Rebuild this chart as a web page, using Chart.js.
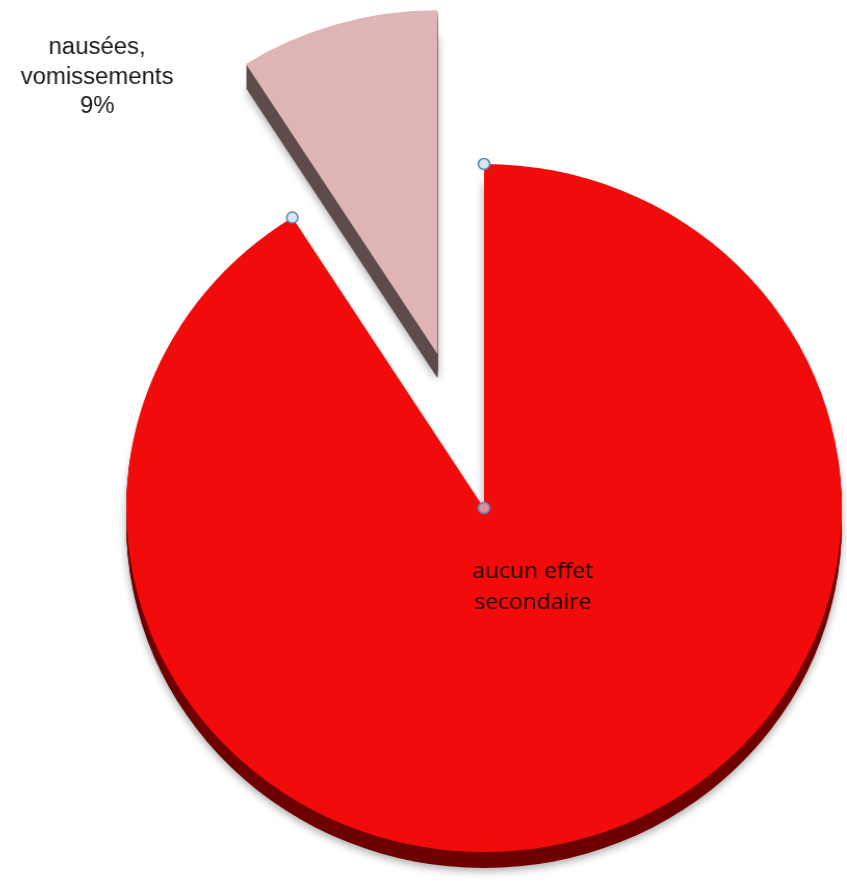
<!DOCTYPE html>
<html lang="fr">
  <head>
    <meta charset="UTF-8" />
    <title>Effets secondaires</title>
    <script src="https://cdn.jsdelivr.net/npm/chart.js"></script>
    <style>
      html, body { margin: 0; padding: 0; background: #fff; }
      .container_chart { position: relative; width: 847px; height: 882px; overflow: hidden; }
      /* the original pie is a little wider than tall */
      #myChart { transform: scaleX(1.04); transform-origin: 484px 0; }
    </style>
  </head>
  <body>
    <div class="container_chart">
      <canvas id="myChart"></canvas>
    </div>

<script>
  // données
  const categories = ['aucun effet secondaire', 'nausées, vomissements'];
  const pourcentages = [91, 9];
  const couleurs = ['#f20b0b', '#deb4b4'];
  const couleursProfondeur = ['#6e0000', '#5e4b4b'];
  const decalages = [0, 160]; // part détachée, en px

  const reliefPlugin = {
    id: 'relief',
    // décale la part détachée sans changer son rayon ni son angle
    afterDatasetUpdate(chart, args) {
      args.meta.data.forEach((arc, i) => {
        const off = decalages[i];
        if (!off || arc._decale) return;
        const drawBase = arc.draw;
        arc.draw = function (ctx) {
          const mid = (this.startAngle + this.endAngle) / 2;
          ctx.save();
          ctx.translate(Math.cos(mid) * off, Math.sin(mid) * off);
          drawBase.call(this, ctx);
          ctx.restore();
        };
        arc._decale = true;
      });
    },
    // relief 3D sous chaque part
    beforeDatasetsDraw(chart) {
      const ctx = chart.ctx;
      const meta = chart.getDatasetMeta(0);
      meta.data.forEach((arc, i) => {
        const p = arc.getProps(['x', 'y', 'startAngle', 'endAngle', 'outerRadius']);
        const off = decalages[i];
        const mid = (p.startAngle + p.endAngle) / 2;
        const cx = p.x + Math.cos(mid) * off;
        const cy = p.y + Math.sin(mid) * off;
        const prof = i === 0 ? 16 : 24;
        for (let d = prof; d > 0; d -= 2) {
          ctx.save();
          if (d === prof) {
            ctx.shadowColor = 'rgba(0,0,0,0.35)';
            ctx.shadowBlur = 8;
            ctx.shadowOffsetY = 3;
          }
          ctx.fillStyle = couleursProfondeur[i];
          ctx.beginPath();
          ctx.moveTo(cx, cy + d);
          ctx.arc(cx, cy + d, p.outerRadius, p.startAngle, p.endAngle);
          ctx.closePath();
          ctx.fill();
          ctx.restore();
        }
      });
    },
    afterDatasetsDraw(chart) {
      const ctx = chart.ctx;
      const arc = chart.getDatasetMeta(0).data[0];
      const p = arc.getProps(['x', 'y', 'startAngle', 'endAngle', 'outerRadius']);
      const poignees = [
        [p.x + Math.cos(p.startAngle) * p.outerRadius, p.y + Math.sin(p.startAngle) * p.outerRadius, '#d6e6ee'],
        [p.x + Math.cos(p.endAngle) * p.outerRadius, p.y + Math.sin(p.endAngle) * p.outerRadius, '#d6e6ee'],
        [p.x, p.y, '#e08a9a']
      ];
      poignees.forEach(h => {
        ctx.save();
        ctx.beginPath();
        ctx.arc(h[0], h[1], 5.5, 0, Math.PI * 2);
        ctx.fillStyle = h[2];
        ctx.fill();
        ctx.lineWidth = 1.5;
        ctx.strokeStyle = '#5b86b5';
        ctx.stroke();
        ctx.restore();
      });

      // étiquettes
      ctx.save();
      ctx.textAlign = 'center';
      ctx.textBaseline = 'middle';
      ctx.fillStyle = '#1a1a1a';
      ctx.font = '23px "Liberation Sans", Arial, sans-serif';
      const lignes = ['nausées,', 'vomissements', pourcentages[1] + '%'];
      lignes.forEach((t, k) => ctx.fillText(t, 112, 48 + k * 29.5));

      ctx.fillStyle = '#1a0000';
      ctx.font = '22px "Open Sans", sans-serif';
      ctx.fillText('aucun effet', 531, 572);
      ctx.fillText('secondaire', 531, 603);
      ctx.restore();
    }
  };

  const ctx1 = document.getElementById('myChart');
  const graficoPizza = new Chart(ctx1, {
    type: 'pie',
    data: {
      labels: categories,
      datasets: [{
        data: pourcentages,
        backgroundColor: couleurs,
        borderWidth: 0
      }]
    },
    options: {
      responsive: true,
      maintainAspectRatio: false,
      animation: false,
      radius: 344,
      layout: { padding: { left: 121, top: 134, right: 0, bottom: 0 } },
      plugins: {
        legend: { display: false },
        tooltip: { enabled: false }
      }
    },
    plugins: [reliefPlugin]
  });
</script>
  </body>
</html>
